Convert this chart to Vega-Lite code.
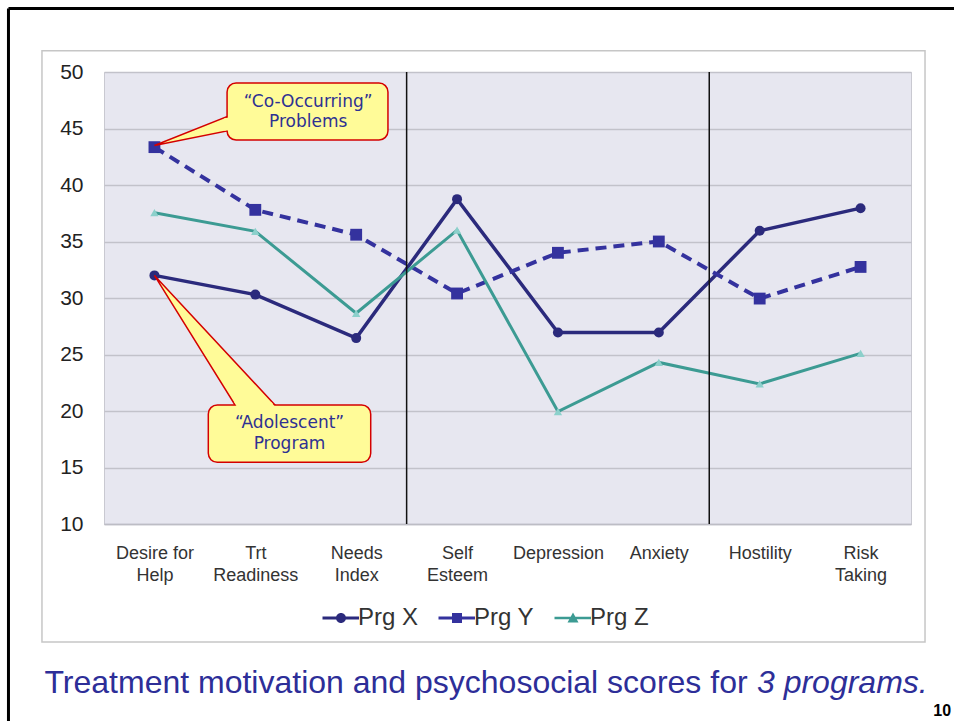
{
  "$schema": "https://vega.github.io/schema/vega-lite/v6.json",
  "width": 807,
  "height": 452,
  "autosize": {"type": "none"},
  "padding": {"left": 104, "top": 72, "right": 43, "bottom": 197},
  "background": "white",
  "config": {
    "font": "Liberation Sans",
    "view": {"fill": "#E7E7F0", "stroke": "#C9C9D1", "strokeWidth": 1}
  },
  "datasets": {
    "scores": [
      {"program": "Prg X", "idx": 0, "category": "Desire for Help", "score": 32.0},
      {"program": "Prg X", "idx": 1, "category": "Trt Readiness", "score": 30.3},
      {"program": "Prg X", "idx": 2, "category": "Needs Index", "score": 26.45},
      {"program": "Prg X", "idx": 3, "category": "Self Esteem", "score": 38.75},
      {"program": "Prg X", "idx": 4, "category": "Depression", "score": 26.95},
      {"program": "Prg X", "idx": 5, "category": "Anxiety", "score": 26.95},
      {"program": "Prg X", "idx": 6, "category": "Hostility", "score": 35.95},
      {"program": "Prg X", "idx": 7, "category": "Risk Taking", "score": 37.95},
      {"program": "Prg Y", "idx": 0, "category": "Desire for Help", "score": 43.35},
      {"program": "Prg Y", "idx": 1, "category": "Trt Readiness", "score": 37.8},
      {"program": "Prg Y", "idx": 2, "category": "Needs Index", "score": 35.6},
      {"program": "Prg Y", "idx": 3, "category": "Self Esteem", "score": 30.4},
      {"program": "Prg Y", "idx": 4, "category": "Depression", "score": 34.0},
      {"program": "Prg Y", "idx": 5, "category": "Anxiety", "score": 35.0},
      {"program": "Prg Y", "idx": 6, "category": "Hostility", "score": 29.95},
      {"program": "Prg Y", "idx": 7, "category": "Risk Taking", "score": 32.75},
      {"program": "Prg Z", "idx": 0, "category": "Desire for Help", "score": 37.55},
      {"program": "Prg Z", "idx": 1, "category": "Trt Readiness", "score": 35.9},
      {"program": "Prg Z", "idx": 2, "category": "Needs Index", "score": 28.65},
      {"program": "Prg Z", "idx": 3, "category": "Self Esteem", "score": 36.0},
      {"program": "Prg Z", "idx": 4, "category": "Depression", "score": 19.95},
      {"program": "Prg Z", "idx": 5, "category": "Anxiety", "score": 24.3},
      {"program": "Prg Z", "idx": 6, "category": "Hostility", "score": 22.4},
      {"program": "Prg Z", "idx": 7, "category": "Risk Taking", "score": 25.1}
    ],
    "frame": [{"x1": -1.115, "x2": 7.639, "y1": 51.88, "y2": -0.44}],
    "border": [
      {"x1": -1.447, "x2": -1.447, "y1": 55.62, "y2": -7.7},
      {"x1": -1.447, "x2": 7.95, "y1": 55.62, "y2": 55.62}
    ],
    "dividers": [{"pos": 2.5}, {"pos": 5.5}],
    "boxes": [
      {"name": "co", "x1": 0.72, "x2": 2.315, "y1": 49.03, "y2": 43.98},
      {"name": "ado", "x1": 0.534, "x2": 2.144, "y1": 20.53, "y2": 15.46}
    ],
    "pointerCo": [{"x": 0, "y": 43.5, "y2": 43.5}, {"x": 0.72, "y": 46.05, "y2": 44.78}],
    "pointerCoCover": [{"x": 0.69, "y": 45.88, "y2": 44.8}, {"x": 0.745, "y": 46.0, "y2": 44.85}],
    "pointerAdo": [{"y": 32, "x": 0, "x2": 0}, {"y": 20.53, "x": 0.799, "x2": 1.195}],
    "pointerAdoCover": [{"y": 20.8, "x": 0.79, "x2": 1.157}, {"y": 20.45, "x": 0.812, "x2": 1.19}],
    "notes": [
      {"text": "“Co-Occurring”", "x": 1.524, "y": 47.37},
      {"text": "Problems", "x": 1.524, "y": 45.6},
      {"text": "“Adolescent”", "x": 1.339, "y": 18.91},
      {"text": "Program", "x": 1.339, "y": 17.05}
    ],
    "caption": [{"text": "Treatment motivation and psychosocial scores for ", "x": -1.09, "y": -4.93}],
    "captionItalic": [{"text": "3 programs.", "x": 5.973, "y": -4.93}],
    "pageNo": [{"text": "10", "x": 7.897, "y": -6.99}]
  },
  "layer": [
    {
      "data": {"name": "scores"},
      "transform": [{"filter": "datum.program === 'Prg X'"}],
      "mark": {"type": "line", "strokeWidth": 3.5, "color": "#2B2A7C"},
      "encoding": {
        "x": {
          "field": "idx", "type": "quantitative", "title": null,
          "scale": {"domain": [-0.5, 7.5], "nice": false, "zero": false},
          "axis": {
            "title": null, "values": [0, 1, 2, 3, 4, 5, 6, 7],
            "labelExpr": "split(['Desire for|Help','Trt|Readiness','Needs|Index','Self|Esteem','Depression','Anxiety','Hostility','Risk|Taking'][datum.value], '|')",
            "labelFontSize": 18, "labelColor": "#333333", "labelLineHeight": 22,
            "labelPadding": 20, "ticks": false, "grid": false,
            "domainColor": "#BDBDC5", "domainWidth": 1.5, "labelFlush": false
          }
        },
        "y": {
          "field": "score", "type": "quantitative", "title": null,
          "scale": {"domain": [10, 50], "nice": false, "zero": false},
          "axis": {
            "title": null, "values": [10, 15, 20, 25, 30, 35, 40, 45, 50],
            "labelFontSize": 21, "labelColor": "#222222", "labelPadding": 21,
            "ticks": false, "domain": false, "gridColor": "#C2C2CA", "gridWidth": 1.5
          }
        }
      }
    },
    {
      "data": {"name": "scores"},
      "transform": [{"filter": "datum.program === 'Prg Y'"}],
      "mark": {"type": "line", "strokeWidth": 4, "color": "#34329E", "strokeDash": [11, 7]},
      "encoding": {
        "x": {"field": "idx", "type": "quantitative", "title": null},
        "y": {"field": "score", "type": "quantitative", "title": null}
      }
    },
    {
      "data": {"name": "scores"},
      "transform": [{"filter": "datum.program === 'Prg Z'"}],
      "mark": {"type": "line", "strokeWidth": 3, "color": "#3C9B93"},
      "encoding": {
        "x": {"field": "idx", "type": "quantitative", "title": null},
        "y": {"field": "score", "type": "quantitative", "title": null}
      }
    },
    {
      "data": {"name": "frame"},
      "mark": {"type": "rect", "fill": null, "stroke": "#C6C6C6", "strokeWidth": 1.5},
      "encoding": {
        "x": {"field": "x1", "type": "quantitative", "title": null},
        "x2": {"field": "x2"},
        "y": {"field": "y1", "type": "quantitative", "title": null},
        "y2": {"field": "y2"}
      }
    },
    {
      "data": {"name": "border"},
      "mark": {"type": "rule", "color": "black", "strokeWidth": 3},
      "encoding": {
        "x": {"field": "x1", "type": "quantitative", "title": null},
        "x2": {"field": "x2"},
        "y": {"field": "y1", "type": "quantitative", "title": null},
        "y2": {"field": "y2"}
      }
    },
    {
      "data": {"name": "dividers"},
      "mark": {"type": "rule", "color": "#111111", "strokeWidth": 1.5},
      "encoding": {"x": {"field": "pos", "type": "quantitative", "title": null}}
    },
    {
      "data": {"name": "scores"},
      "transform": [{"filter": "datum.program === 'Prg X'"}],
      "mark": {"type": "point", "shape": "circle", "filled": true, "size": 100, "color": "#2B2A7C", "opacity": 1},
      "encoding": {
        "x": {"field": "idx", "type": "quantitative", "title": null},
        "y": {"field": "score", "type": "quantitative", "title": null}
      }
    },
    {
      "data": {"name": "scores"},
      "transform": [{"filter": "datum.program === 'Prg Y'"}],
      "mark": {"type": "point", "shape": "square", "filled": true, "size": 140, "color": "#34329E", "opacity": 1},
      "encoding": {
        "x": {"field": "idx", "type": "quantitative", "title": null},
        "y": {"field": "score", "type": "quantitative", "title": null}
      }
    },
    {
      "data": {"name": "scores"},
      "transform": [{"filter": "datum.program === 'Prg Z'"}],
      "mark": {"type": "point", "shape": "triangle-up", "filled": true, "size": 70, "color": "#8CD0CB", "opacity": 1},
      "encoding": {
        "x": {"field": "idx", "type": "quantitative", "title": null},
        "y": {"field": "score", "type": "quantitative", "title": null}
      }
    },
    {
      "data": {"name": "scores"},
      "mark": {"type": "point", "filled": true, "opacity": 0},
      "encoding": {
        "x": {"field": "idx", "type": "quantitative", "title": null},
        "y": {"field": "score", "type": "quantitative", "title": null},
        "color": {
          "field": "program", "type": "nominal", "title": null,
          "scale": {"domain": ["Prg X", "Prg Y", "Prg Z"], "range": ["#2B2A7C", "#34329E", "#3C9B93"]},
          "legend": {
            "orient": "none", "legendX": 225, "legendY": 534, "direction": "horizontal",
            "title": null, "labelFontSize": 24, "labelColor": "#333333", "symbolSize": 400,
            "labelOffset": 5, "columnPadding": 19, "symbolOpacity": 1, "symbolStrokeWidth": 0, "padding": 0
          }
        },
        "shape": {
          "field": "program", "type": "nominal", "title": null,
          "scale": {
            "domain": ["Prg X", "Prg Y", "Prg Z"],
            "range": [
              "M-1.85,-0.15H1.8V0.15H-1.85Z M-0.5,0A0.5,0.5 0 1,1 0.5,0A0.5,0.5 0 1,1 -0.5,0Z",
              "M-1.85,-0.15H1.8V0.15H-1.85Z M-0.5,-0.5H0.5V0.5H-0.5Z",
              "M-1.85,-0.12H1.8V0.12H-1.85Z M0,-0.55L0.55,0.45H-0.55Z"
            ]
          },
          "legend": {
            "orient": "none", "legendX": 225, "legendY": 534, "direction": "horizontal",
            "title": null, "labelFontSize": 24, "labelColor": "#333333", "symbolSize": 400,
            "labelOffset": 5, "columnPadding": 19, "symbolOpacity": 1, "symbolStrokeWidth": 0, "padding": 0
          }
        }
      }
    },
    {
      "data": {"name": "pointerCo"},
      "mark": {"type": "area", "orient": "vertical", "fill": "#FFFB98", "stroke": "#D40000", "strokeWidth": 1.5},
      "encoding": {
        "x": {"field": "x", "type": "quantitative", "title": null},
        "y": {"field": "y", "type": "quantitative", "title": null},
        "y2": {"field": "y2"}
      }
    },
    {
      "data": {"name": "pointerAdo"},
      "mark": {"type": "area", "orient": "horizontal", "fill": "#FFFB98", "stroke": "#D40000", "strokeWidth": 1.5},
      "encoding": {
        "y": {"field": "y", "type": "quantitative", "title": null},
        "x": {"field": "x", "type": "quantitative", "title": null},
        "x2": {"field": "x2"}
      }
    },
    {
      "data": {"name": "boxes"},
      "mark": {"type": "rect", "fill": "#FFFB98", "stroke": "#D40000", "strokeWidth": 1.5, "cornerRadius": 9},
      "encoding": {
        "x": {"field": "x1", "type": "quantitative", "title": null},
        "x2": {"field": "x2"},
        "y": {"field": "y1", "type": "quantitative", "title": null},
        "y2": {"field": "y2"}
      }
    },
    {
      "data": {"name": "pointerCoCover"},
      "mark": {"type": "area", "orient": "vertical", "fill": "#FFFB98"},
      "encoding": {
        "x": {"field": "x", "type": "quantitative", "title": null},
        "y": {"field": "y", "type": "quantitative", "title": null},
        "y2": {"field": "y2"}
      }
    },
    {
      "data": {"name": "pointerAdoCover"},
      "mark": {"type": "area", "orient": "horizontal", "fill": "#FFFB98"},
      "encoding": {
        "y": {"field": "y", "type": "quantitative", "title": null},
        "x": {"field": "x", "type": "quantitative", "title": null},
        "x2": {"field": "x2"}
      }
    },
    {
      "data": {"name": "notes"},
      "mark": {"type": "text", "font": "DejaVu Sans", "fontSize": 17, "color": "#2E3192", "align": "center", "baseline": "middle"},
      "encoding": {
        "x": {"field": "x", "type": "quantitative", "title": null},
        "y": {"field": "y", "type": "quantitative", "title": null},
        "text": {"field": "text"}
      }
    },
    {
      "data": {"name": "caption"},
      "mark": {"type": "text", "font": "Liberation Sans", "fontSize": 32, "color": "#2D2E98", "align": "left", "baseline": "alphabetic"},
      "encoding": {
        "x": {"field": "x", "type": "quantitative", "title": null},
        "y": {"field": "y", "type": "quantitative", "title": null},
        "text": {"field": "text"}
      }
    },
    {
      "data": {"name": "captionItalic"},
      "mark": {"type": "text", "font": "Liberation Sans", "fontSize": 32, "fontStyle": "italic", "color": "#2D2E98", "align": "left", "baseline": "alphabetic"},
      "encoding": {
        "x": {"field": "x", "type": "quantitative", "title": null},
        "y": {"field": "y", "type": "quantitative", "title": null},
        "text": {"field": "text"}
      }
    },
    {
      "data": {"name": "pageNo"},
      "mark": {"type": "text", "font": "Liberation Sans", "fontSize": 16, "fontWeight": "bold", "color": "#000000", "align": "right", "baseline": "alphabetic"},
      "encoding": {
        "x": {"field": "x", "type": "quantitative", "title": null},
        "y": {"field": "y", "type": "quantitative", "title": null},
        "text": {"field": "text"}
      }
    }
  ]
}
